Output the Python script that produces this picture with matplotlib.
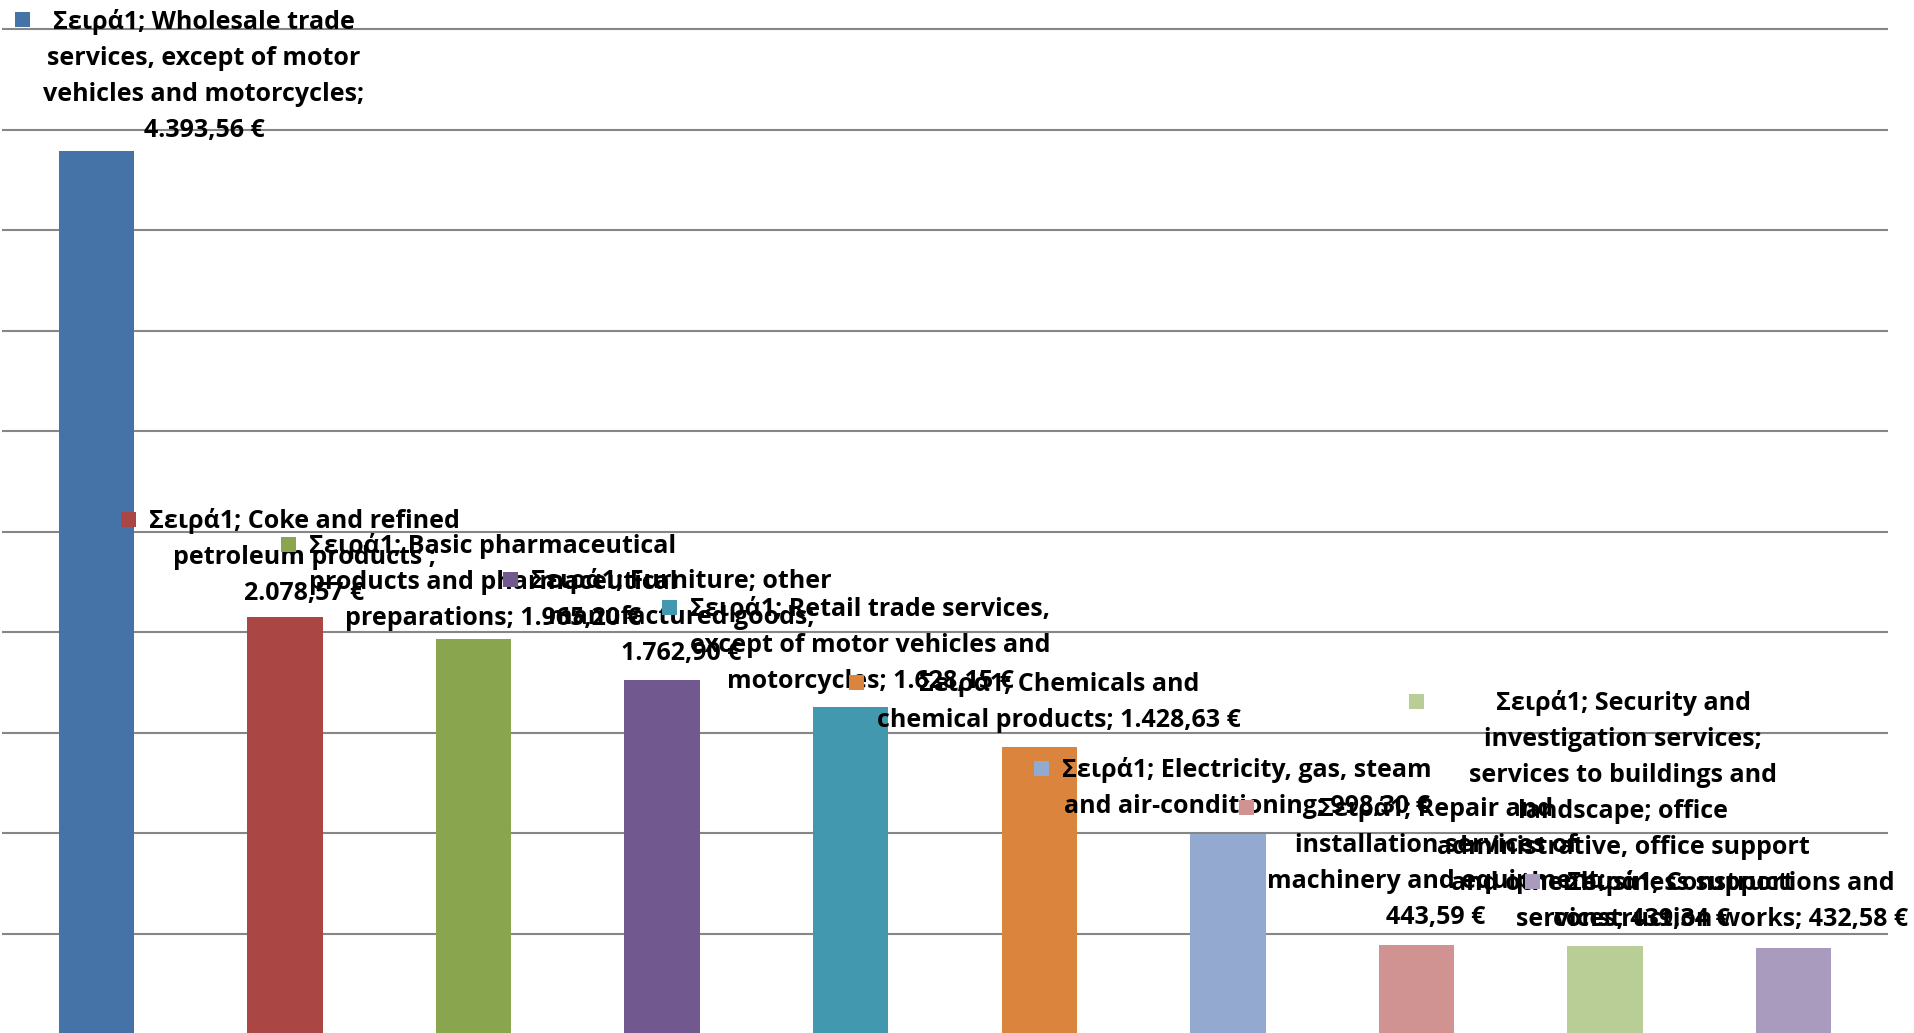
import matplotlib
matplotlib.use("Agg")
import matplotlib.pyplot as plt
from matplotlib.patches import Rectangle
from matplotlib.transforms import IdentityTransform

plt.rcParams['font.family'] = ['Open Sans', 'DejaVu Sans']

# data
categories = [
    "Wholesale trade services, except of motor vehicles and motorcycles",
    "Coke and refined petroleum products",
    "Basic pharmaceutical products and pharmaceutical preparations",
    "Furniture; other manufactured goods",
    "Retail trade services, except of motor vehicles and motorcycles",
    "Chemicals and chemical products",
    "Electricity, gas, steam and air-conditioning",
    "Repair and installation services of machinery and equipment",
    "Security and investigation services; services to buildings and landscape; "
    "office administrative, office support and other business support services",
    "Constructions and construction works",
]
values = [4393.56, 2078.57, 1965.20, 1762.90, 1628.15, 1428.63, 998.30, 443.59, 439.34, 432.58]
colors = ['#4572A7', '#AA4643', '#89A54E', '#71588F', '#4198AF',
          '#DB843D', '#93A9CF', '#D19392', '#B9CD96', '#A99BBD']

# data labels as Excel wrapped them
label_lines = [
    ["Σειρά1; Wholesale trade", "services, except of motor", "vehicles and motorcycles;", "4.393,56 €"],
    ["Σειρά1; Coke and refined", "petroleum products ;", "2.078,57 €"],
    ["Σειρά1; Basic pharmaceutical", "products and pharmaceutical", "preparations; 1.965,20 €"],
    ["Σειρά1; Furniture; other", "manufactured goods;", "1.762,90 €"],
    ["Σειρά1; Retail trade services,", "except of motor vehicles and", "motorcycles; 1.628,15 €"],
    ["Σειρά1; Chemicals and", "chemical products; 1.428,63 €"],
    ["Σειρά1; Electricity, gas, steam", "and air-conditioning; 998,30 €"],
    ["Σειρά1; Repair and", "installation services of", "machinery and equipment;", "443,59 €"],
    ["Σειρά1; Security and", "investigation services;", "services to buildings and", "landscape; office",
     "administrative, office support", "and other business support", "services; 439,34 €"],
    ["Σειρά1; Constructions and", "construction works; 432,58 €"],
]
# label block centre x and key-square centre y, in pixels from top-left
label_pos = [(204, 19.5), (304, 519), (493, 544), (681, 579), (870, 607),
             (1059, 682), (1247, 768), (1436, 807), (1623, 701), (1731, 881)]

W, H = 1915, 1033
fig = plt.figure(figsize=(W / 100, H / 100), dpi=100)
ax = fig.add_axes([2 / W, 0, 1886 / W, 1])

x = range(len(values))
ax.bar(x, values, width=0.4, color=colors, zorder=2)
ax.set_xlim(-0.5, len(values) - 0.5)
ax.set_ylim(7.5, 5145.7)
ax.set_yticks(range(500, 5001, 500))
ax.yaxis.grid(True, color='#868686', linewidth=1.5)
ax.set_axisbelow(True)
ax.tick_params(left=False, bottom=False, labelleft=False, labelbottom=False)
for s in ax.spines.values():
    s.set_visible(False)

inv = ax.transData.inverted()
groups = []
for k, (lines, (cx, sy)) in enumerate(zip(label_lines, label_pos)):
    xd, yd = inv.transform((cx, H - sy - 9))
    z = 10 + 2 * k
    grp = []
    for i, line in enumerate(lines):
        t = ax.annotate(line, xy=(xd, yd), xytext=(0, -36 * i), textcoords='offset pixels',
                        ha='center', va='baseline', fontsize=18, fontweight='bold',
                        color='black', zorder=z, annotation_clip=False)
        grp.append(t)
    groups.append((grp, sy, colors[k], z))

fig.canvas.draw()
r = fig.canvas.get_renderer()
sq = 15
for grp, sy, c, z in groups:
    left = min(t.get_window_extent(r).x0 for t in grp)
    ax.add_patch(Rectangle((left - 13 - sq, H - sy - sq / 2), sq, sq,
                           transform=IdentityTransform(), facecolor=c,
                           edgecolor='none', zorder=z + 1, clip_on=False))

fig.savefig('out.png', dpi=100)
